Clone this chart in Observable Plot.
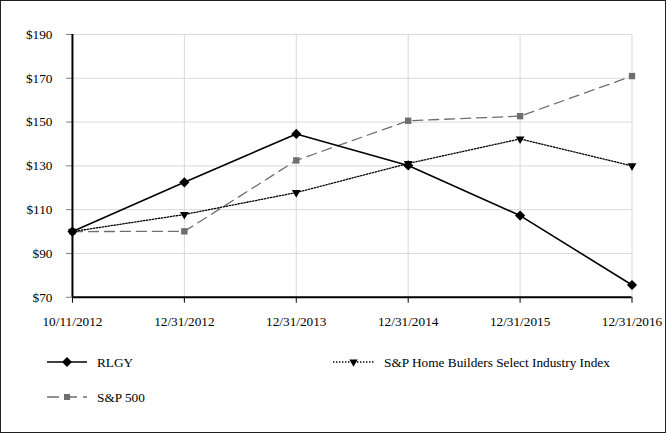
<!DOCTYPE html>
<html><head><meta charset="utf-8">
<script src="https://cdn.jsdelivr.net/npm/d3@7"></script>
<script src="https://cdn.jsdelivr.net/npm/@observablehq/plot@0.6"></script>
<style>
body{margin:0;background:#fff;}
#frame{position:relative;width:666px;height:433px;box-sizing:border-box;border:1.5px solid #222;font-family:'Liberation Serif','Times New Roman',serif;font-size:13.3px;overflow:hidden;background:#fff;}
#chart{position:absolute;left:-1.5px;top:-1.5px;}
#legend{position:absolute;left:-1.5px;top:-1.5px;}
svg text{font-family:'Liberation Serif','Times New Roman',serif !important;}
</style></head><body>
<div id="frame"><div id="chart"></div><svg id="legend" width="666" height="433"></svg></div>
<script>
const dates = ["10/11/2012","12/31/2012","12/31/2013","12/31/2014","12/31/2015","12/31/2016"];
const rlgy = [100, 122.5, 144.6, 130.2, 107.3, 75.6];
const homeBuilders = [100, 107.8, 117.8, 131.1, 142.3, 130.0];
const sp500 = [100, 100.1, 132.5, 150.6, 152.7, 171.0];
const yTicks = [70, 90, 110, 130, 150, 170, 190];
const seriesNames = ["RLGY", "S&P Home Builders Select Industry Index", "S&P 500"];

const rows = s => dates.map((d, i) => ({date: d, value: s[i]}));
const rRl = rows(rlgy), rHb = rows(homeBuilders), rSp = rows(sp500);

const plot = Plot.plot({
  width: 666, height: 335,
  marginLeft: 72, marginRight: 34, marginTop: 34, marginBottom: 38,
  style: {fontFamily: "'Liberation Serif', 'Times New Roman', serif", fontSize: "13.3px", color: "#000", background: "transparent"},
  x: {type: "point", domain: dates, padding: 0},
  y: {domain: [70, 190]},
  marks: [
    Plot.gridY(yTicks, {stroke: "#d9d9d9", strokeOpacity: 1, strokeWidth: 1}),
    Plot.gridX(dates.slice(1), {stroke: "#d9d9d9", strokeOpacity: 1, strokeWidth: 1}),
    Plot.axisY(yTicks, {tickFormat: d => "$" + d, tickSize: 6, tickPadding: 14, stroke: "#808080", fill: "#000", label: null}),
    Plot.axisX(dates, {tickSize: 6, tickPadding: 13, stroke: "#000", fill: "#000", label: null}),
    Plot.ruleX([dates[0]], {stroke: "#000", strokeWidth: 2}),
    Plot.ruleY([70], {stroke: "#000", strokeWidth: 1.8}),
    Plot.line(rSp, {x: "date", y: "value", stroke: "#6e6e6e", strokeWidth: 1.3, strokeDasharray: "10,6"}),
    Plot.dot(rSp, {x: "date", y: "value", symbol: "square", r: 3.6, fill: "#6e6e6e", stroke: "none"}),
    Plot.line(rHb, {x: "date", y: "value", stroke: "#000", strokeWidth: 1.3, strokeDasharray: "1.4,1.6"}),
    Plot.dot(rHb, {x: "date", y: "value", symbol: "triangle2", r: 4.2, fill: "#000", stroke: "none", rotate: 180}),
    Plot.line(rRl, {x: "date", y: "value", stroke: "#000", strokeWidth: 1.6}),
    Plot.dot(rRl, {x: "date", y: "value", symbol: "diamond2", r: 4.6, fill: "#000", stroke: "none"})
  ]
});
document.getElementById("chart").appendChild(plot);

// Legend
const leg = d3.select("#legend");
const items = [
  {name: seriesNames[0], x0: 47, x1: 87, y: 362, stroke: "#000", dash: null, sw: 1.6, sym: d3.symbolDiamond2, size: 64, fill: "#000", rot: 0, tx: 97},
  {name: seriesNames[1], x0: 333, x1: 374, y: 362, stroke: "#000", dash: "1.4,1.6", sw: 1.3, sym: d3.symbolTriangle2, size: 50, fill: "#000", rot: 180, tx: 384},
  {name: seriesNames[2], x0: 47, x1: 87, y: 397, stroke: "#6e6e6e", dash: "12,6", sw: 1.3, sym: d3.symbolSquare, size: 36, fill: "#6e6e6e", rot: 0, tx: 97}
];
for (const it of items) {
  leg.append("line").attr("x1", it.x0).attr("x2", it.x1).attr("y1", it.y).attr("y2", it.y)
    .attr("stroke", it.stroke).attr("stroke-width", it.sw).attr("stroke-dasharray", it.dash);
  leg.append("path").attr("d", d3.symbol(it.sym, it.size)())
    .attr("transform", `translate(${(it.x0 + it.x1) / 2},${it.y}) rotate(${it.rot})`).attr("fill", it.fill);
  leg.append("text").attr("x", it.tx).attr("y", it.y).attr("dy", "0.35em")
    .attr("font-size", 13.3).attr("fill", "#000").text(it.name);
}
</script>
</body></html>
